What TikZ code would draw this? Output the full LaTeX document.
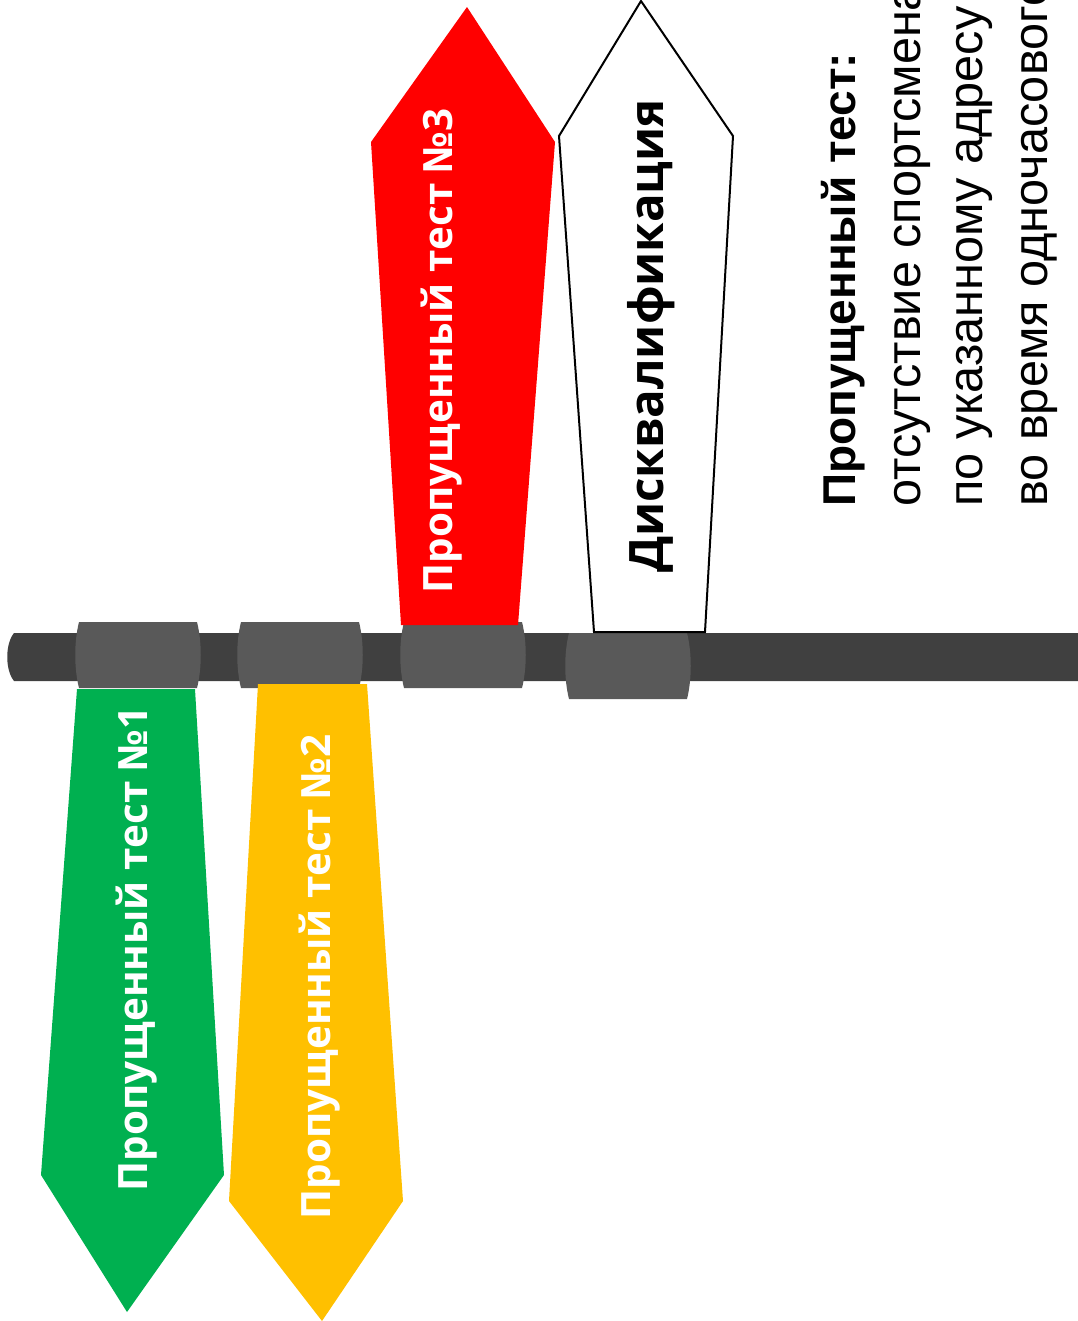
\documentclass[tikz,border=0pt]{standalone}
\usepackage{fontspec}
\setmainfont{Liberation Sans}
\newfontfamily\tagfont{Open Sans}
\usetikzlibrary{positioning}
\usepackage{xcolor}
\definecolor{roddark}{RGB}{64,64,64}
\definecolor{clampgray}{RGB}{89,89,89}
\definecolor{testgreen}{RGB}{0,176,80}
\definecolor{testyellow}{RGB}{255,192,0}
\definecolor{testred}{RGB}{255,0,0}

\begin{document}
\begin{tikzpicture}[x=0.75pt, y=-0.75pt,
  clamp/.style={fill=clampgray},
  tag/.style={rotate=90, anchor=base, inner sep=0pt, text=white, font=\tagfont\bfseries\fontsize{30.3}{36}\selectfont},
  note/.style={rotate=90, anchor=base west, inner sep=0pt, font=\fontsize{36.5}{44}\selectfont}
]
\useasboundingbox (0,0) rectangle (1078,1321);
% rod
\fill[roddark] (14,633) -- (1078,633) -- (1078,681) -- (14,681) .. controls (5,670) and (5,644) .. (14,633);
% clamps on the rod
\foreach \cx/\cy in {75/622, 237/622, 400/622, 565/633}
  \fill[clamp] (\cx+4,\cy) -- (\cx+122,\cy) .. controls (\cx+127,\cy+20) and (\cx+127,\cy+46) .. (\cx+122,\cy+66)
    -- (\cx+4,\cy+66) .. controls (\cx-1,\cy+46) and (\cx-1,\cy+20) .. (\cx+4,\cy);
% tags
\fill[testgreen] (77,689) -- (195,689) -- (224,1175) -- (127,1312) -- (41,1175) -- cycle;
\fill[testyellow] (258,684) -- (367,684) -- (403,1201) -- (322,1321) -- (229,1201) -- cycle;
\fill[testred] (401,625) -- (518,625) -- (555,142) -- (467,7) -- (371,142) -- cycle;
\draw[line width=1.5pt, fill=white] (594,632) -- (705,632) -- (733,136) -- (641,1) -- (559,136) -- cycle;

\node[tag] (lbl1) at (147,949) {Пропущенный тест №1};
\node[tag] (lbl2) at (330,977) {Пропущенный тест №2};
\node[tag] (lbl3) at (452,351) {Пропущенный тест №3};
\node[tag, text=black, font=\tagfont\bfseries\fontsize{35.6}{42}\selectfont] (dq) at (663,336) {Дисквалификация};

% definition
\node[note, font=\bfseries\fontsize{34.5}{41}\selectfont] (def1) at (855,507) {Пропущенный тест:};
\node[note] (def2) at (920,507) {отсутствие спортсмена};
\node[note] (def3) at (982,507) {по указанному адресу};
\node[note] (def4) at (1047,507) {во время одночасового};
\end{tikzpicture}
\end{document}
